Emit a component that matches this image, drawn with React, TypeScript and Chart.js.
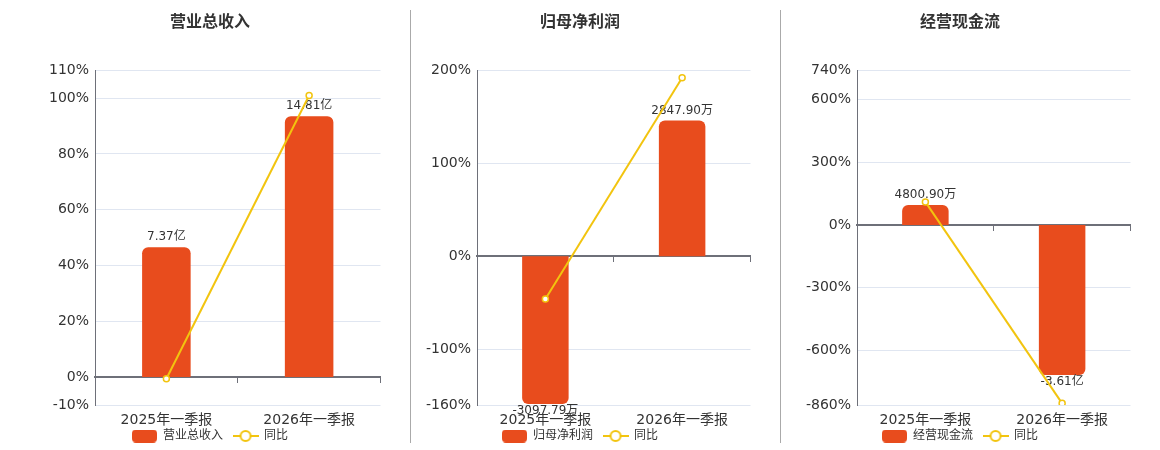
import { useEffect, useRef } from "react"
import { Chart, type ChartConfiguration, registerables } from "chart.js"

Chart.register(...registerables)

Chart.defaults.font.family = '"DejaVu Sans", "Noto Sans CJK SC", sans-serif'

const CATEGORIES = ["2025年一季报", "2026年一季报"]

// values in 万元
const REVENUE = [73700, 148100]
const REVENUE_YOY = [-0.57, 100.95]
const REVENUE_TICKS = [-10, 0, 20, 40, 60, 80, 100, 110]

const PROFIT = [-3097.79, 2847.9]
const PROFIT_YOY = [-46.1, 191.93]
const PROFIT_TICKS = [-160, -100, 0, 100, 200]

const CASHFLOW = [4800.9, -36100]
const CASHFLOW_YOY = [110.6, -851.94]
const CASHFLOW_TICKS = [-860, -600, -300, 0, 300, 600, 740]

const BAR_COLOR = "#E84C1D"
const LINE_COLOR = "#F2C40F"
const TEXT_COLOR = "#333333"
const AXIS_COLOR = "#6E7079"
const GRID_COLOR = "#E0E6F1"

function formatAmount(v: number) {
  if (Math.abs(v) >= 10000) return (v / 10000).toFixed(2) + "亿"
  return v.toFixed(2) + "万"
}

function makeBarIcon() {
  const c = document.createElement("canvas")
  c.width = 25
  c.height = 13
  const ctx = c.getContext("2d")!
  ctx.fillStyle = BAR_COLOR
  ctx.beginPath()
  ctx.roundRect(0, 0, 25, 13, 4)
  ctx.fill()
  return c
}

function makeLineIcon() {
  const c = document.createElement("canvas")
  c.width = 26
  c.height = 14
  const ctx = c.getContext("2d")!
  ctx.strokeStyle = LINE_COLOR
  ctx.lineWidth = 2
  ctx.beginPath()
  ctx.moveTo(0, 7)
  ctx.lineTo(26, 7)
  ctx.stroke()
  ctx.fillStyle = "#ffffff"
  ctx.beginPath()
  ctx.arc(13, 7, 5, 0, Math.PI * 2)
  ctx.fill()
  ctx.stroke()
  return c
}

interface PanelProps {
  title: string
  barName: string
  bars: number[]
  yoy: number[]
  ticks: number[]
  barMax: number
  left: number
  axisWidth: number
}

function Panel({ title, barName, bars, yoy, ticks, barMax, left, axisWidth }: PanelProps) {
  const canvasRef = useRef<HTMLCanvasElement>(null)
  const chartRef = useRef<Chart | null>(null)

  useEffect(() => {
    if (!canvasRef.current) return
    const ctx = canvasRef.current.getContext("2d")
    if (!ctx) return
    if (chartRef.current) chartRef.current.destroy()

    const yMin = ticks[0]
    const yMax = ticks[ticks.length - 1]
    const barIcon = makeBarIcon()
    const lineIcon = makeLineIcon()

    const barLabels = {
      id: "barLabels",
      afterDatasetDraw(chart: Chart, args: any) {
        if (args.meta.type !== "bar") return
        const c = chart.ctx
        c.save()
        c.font = '12px "DejaVu Sans", "Noto Sans CJK SC", sans-serif'
        c.fillStyle = TEXT_COLOR
        c.textAlign = "center"
        args.meta.data.forEach((el: any, i: number) => {
          const v = bars[i]
          if (v >= 0) {
            c.textBaseline = "bottom"
            c.fillText(formatAmount(v), el.x, el.y - 4)
          } else {
            c.textBaseline = "top"
            c.fillText(formatAmount(v), el.x, el.y + 1)
          }
        })
        c.restore()
      },
    }

    const config: ChartConfiguration = {
      type: "bar",
      data: {
        labels: CATEGORIES,
        datasets: [
          {
            type: "bar",
            label: barName,
            data: bars,
            yAxisID: "y1",
            backgroundColor: BAR_COLOR,
            borderRadius: 6,
            borderSkipped: "start",
            barPercentage: 0.34,
            categoryPercentage: 1,
            order: 1,
          },
          {
            type: "line",
            label: "同比",
            data: yoy,
            yAxisID: "y",
            borderColor: LINE_COLOR,
            borderWidth: 2,
            pointRadius: 3,
            pointBackgroundColor: "#ffffff",
            pointBorderColor: LINE_COLOR,
            pointBorderWidth: 1.5,
            tension: 0,
            fill: false,
            order: 0,
          } as any,
        ],
      },
      options: {
        responsive: true,
        maintainAspectRatio: false,
        animation: false,
        layout: { padding: 0 },
        plugins: {
          title: {
            display: true,
            text: title,
            color: TEXT_COLOR,
            font: { size: 16, weight: "bold" },
            padding: { top: 13, bottom: 38 },
          },
          legend: {
            position: "bottom",
            labels: {
              usePointStyle: true,
              pointStyleWidth: 25,
              padding: 10,
              color: TEXT_COLOR,
              font: { size: 12 },
              generateLabels: () => [
                { text: barName, pointStyle: barIcon as any, fillStyle: BAR_COLOR, strokeStyle: BAR_COLOR, lineWidth: 0, hidden: false, datasetIndex: 0, fontColor: TEXT_COLOR },
                { text: "同比", pointStyle: lineIcon as any, fillStyle: "#fff", strokeStyle: LINE_COLOR, lineWidth: 0, hidden: false, datasetIndex: 1, fontColor: TEXT_COLOR },
              ],
            },
          },
          tooltip: { enabled: false },
        },
        scales: {
          // category labels, hung from the bottom of the plot
          x: {
            type: "category",
            position: { y: yMin } as any,
            offset: true,
            grid: { display: false, drawTicks: false },
            border: { display: false },
            ticks: { color: TEXT_COLOR, font: { size: 14 }, padding: 7, maxRotation: 0, autoSkip: false },
          },
          // keeps room between plot and legend
          xs: {
            type: "category",
            position: "bottom",
            grid: { display: false, drawTicks: false },
            border: { display: false },
            ticks: { display: false, padding: 0 },
            afterFit: (s: any) => {
              s.height = 15
            },
          },
          // zero line with category ticks
          x2: {
            type: "category",
            position: { y: 0 } as any,
            offset: true,
            z: 1,
            grid: { display: true, drawOnChartArea: false, offset: true, drawTicks: true, tickLength: 5, color: AXIS_COLOR, lineWidth: 1 },
            border: { display: true, color: AXIS_COLOR, width: 2 },
            ticks: { display: false, padding: 0 },
          },
          y: {
            type: "linear",
            position: "left",
            min: yMin,
            max: yMax,
            afterBuildTicks: (s: any) => {
              s.ticks = ticks.map((v) => ({ value: v }))
            },
            afterFit: (s: any) => {
              s.width = axisWidth
            },
            grid: { color: GRID_COLOR, drawTicks: false },
            border: { display: true, color: AXIS_COLOR, width: 1 },
            ticks: {
              color: TEXT_COLOR,
              font: { size: 14 },
              padding: 6,
              callback: (v: any) => `${v}%`,
            },
          },
          y1: {
            type: "linear",
            display: false,
            min: (barMax * yMin) / yMax,
            max: barMax,
          },
        },
      },
      plugins: [barLabels],
    }

    chartRef.current = new Chart(ctx, config)

    return () => {
      if (chartRef.current) {
        chartRef.current.destroy()
        chartRef.current = null
      }
    }
  }, [title, barName, bars, yoy, ticks, barMax, axisWidth])

  return (
    <div style={{ position: "absolute", left, top: 0, width: 352, height: 452 }}>
      <canvas ref={canvasRef}></canvas>
    </div>
  )
}

export default function App() {
  return (
    <div style={{ position: "absolute", left: 0, top: 0, width: 1160, height: 450, overflow: "hidden", background: "#fff" }}>
      <Panel title="营业总收入" barName="营业总收入" bars={REVENUE} yoy={REVENUE_YOY} ticks={REVENUE_TICKS} barMax={174200} left={34} axisWidth={61} />
      <Panel title="归母净利润" barName="归母净利润" bars={PROFIT} yoy={PROFIT_YOY} ticks={PROFIT_TICKS} barMax={3900} left={404} axisWidth={73} />
      <Panel title="经营现金流" barName="经营现金流" bars={CASHFLOW} yoy={CASHFLOW_YOY} ticks={CASHFLOW_TICKS} barMax={37290} left={784} axisWidth={73} />
      <div style={{ position: "absolute", left: 410, top: 10, width: 1, height: 433, background: "#aaaaaa" }} />
      <div style={{ position: "absolute", left: 780, top: 10, width: 1, height: 433, background: "#aaaaaa" }} />
    </div>
  )
}
